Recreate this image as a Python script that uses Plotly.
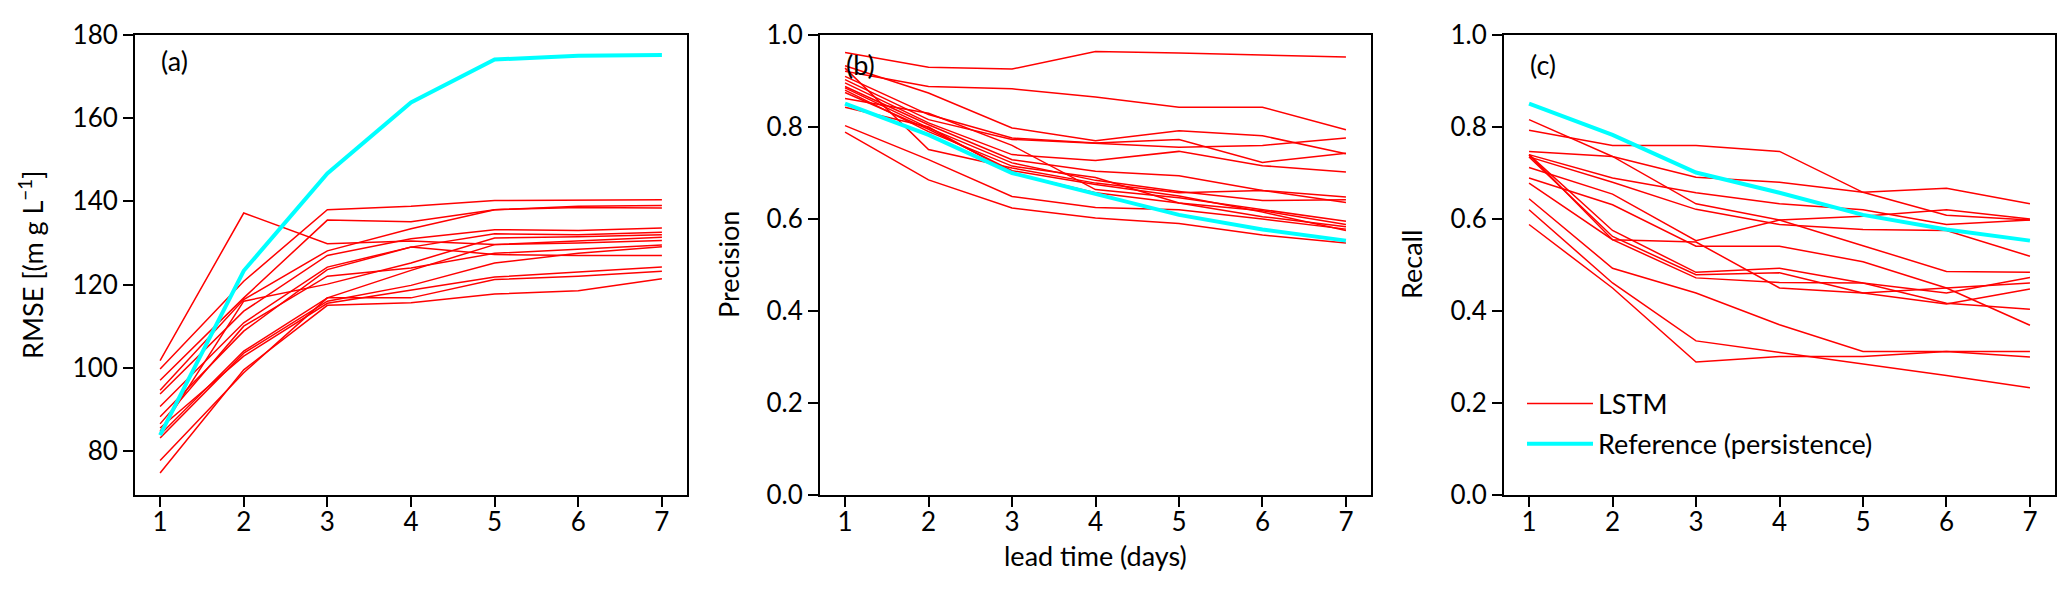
import plotly.graph_objects as go

lead_days = [1, 2, 3, 4, 5, 6, 7]

# ---- Panel (a): RMSE ----
rmse_lstm = [
    [101.7, 137.2, 129.8, 130.5, 129.6, 130.0, 130.6],
    [99.7, 120.8, 138.0, 138.8, 140.2, 140.3, 140.4],
    [97.0, 116.8, 135.5, 135.1, 138.0, 138.8, 139.0],
    [94.6, 116.4, 128.1, 133.4, 138.0, 138.5, 138.4],
    [93.7, 113.6, 127.0, 131.0, 133.2, 133.0, 133.6],
    [90.7, 110.8, 124.2, 129.0, 132.2, 132.0, 132.6],
    [88.2, 108.8, 123.6, 129.0, 127.2, 127.0, 127.0],
    [84.7, 116.0, 120.1, 125.2, 131.2, 131.5, 132.0],
    [83.9, 104.0, 116.8, 123.4, 129.6, 130.5, 131.4],
    [83.1, 103.5, 116.0, 119.8, 125.2, 127.5, 129.1],
    [85.5, 102.8, 115.5, 118.7, 121.8, 123.0, 124.2],
    [77.7, 98.8, 116.8, 116.8, 121.2, 122.0, 123.2],
    [74.7, 99.5, 115.0, 115.6, 117.7, 118.5, 121.4],
    [86.5, 110.0, 122.0, 124.0, 127.5, 128.5, 129.5],
]
rmse_ref = [83.8, 123.3, 146.7, 163.8, 174.1, 175.0, 175.2]

# ---- Panel (b): Precision ----
prec_lstm = [
    [0.962, 0.930, 0.926, 0.964, 0.961, 0.957, 0.952],
    [0.921, 0.888, 0.883, 0.865, 0.843, 0.843, 0.794],
    [0.933, 0.874, 0.798, 0.770, 0.792, 0.781, 0.742],
    [0.910, 0.827, 0.776, 0.765, 0.773, 0.723, 0.743],
    [0.903, 0.816, 0.773, 0.765, 0.756, 0.760, 0.776],
    [0.896, 0.809, 0.740, 0.727, 0.747, 0.716, 0.702],
    [0.888, 0.805, 0.729, 0.704, 0.694, 0.662, 0.648],
    [0.885, 0.798, 0.722, 0.684, 0.660, 0.640, 0.642],
    [0.928, 0.751, 0.711, 0.678, 0.657, 0.662, 0.636],
    [0.862, 0.830, 0.760, 0.664, 0.646, 0.620, 0.595],
    [0.843, 0.800, 0.700, 0.657, 0.635, 0.618, 0.588],
    [0.880, 0.790, 0.715, 0.690, 0.635, 0.605, 0.583],
    [0.803, 0.729, 0.649, 0.625, 0.620, 0.600, 0.578],
    [0.789, 0.685, 0.624, 0.602, 0.590, 0.565, 0.548],
    [0.875, 0.795, 0.705, 0.675, 0.650, 0.615, 0.575],
]
prec_ref = [0.851, 0.783, 0.700, 0.655, 0.609, 0.577, 0.553]

# ---- Panel (c): Recall ----
recall_lstm = [
    [0.793, 0.760, 0.760, 0.747, 0.658, 0.608, 0.598],
    [0.816, 0.736, 0.691, 0.680, 0.658, 0.667, 0.633],
    [0.747, 0.736, 0.633, 0.598, 0.606, 0.620, 0.600],
    [0.740, 0.689, 0.657, 0.633, 0.620, 0.588, 0.598],
    [0.735, 0.680, 0.621, 0.588, 0.577, 0.575, 0.519],
    [0.712, 0.654, 0.553, 0.598, 0.542, 0.486, 0.484],
    [0.689, 0.631, 0.541, 0.541, 0.507, 0.450, 0.369],
    [0.740, 0.575, 0.484, 0.493, 0.461, 0.439, 0.473],
    [0.735, 0.562, 0.479, 0.483, 0.439, 0.450, 0.461],
    [0.740, 0.555, 0.472, 0.462, 0.461, 0.417, 0.404],
    [0.678, 0.555, 0.550, 0.450, 0.439, 0.415, 0.448],
    [0.644, 0.493, 0.439, 0.370, 0.312, 0.312, 0.312],
    [0.620, 0.461, 0.335, 0.310, 0.285, 0.260, 0.233],
    [0.588, 0.450, 0.289, 0.301, 0.301, 0.312, 0.300],
]
recall_ref = [0.851, 0.783, 0.701, 0.657, 0.609, 0.577, 0.553]

panel_labels = ["(a)", "(b)", "(c)"]
y_titles = ["RMSE [(m g L<sup>−1</sup>]", "Precision", "Recall"]
x_title = "lead time (days)"
legend_names = ["LSTM", "Reference (persistence)"]

W, H = 2067, 590
FONT = "Lato"
RED = "#ff0000"
CYAN = "#00ffff"

fig = go.Figure()

panels = [(rmse_lstm, rmse_ref), (prec_lstm, prec_ref), (recall_lstm, recall_ref)]
for i, (lstm, ref) in enumerate(panels):
    ax = "" if i == 0 else str(i + 1)
    for j, series in enumerate(lstm):
        fig.add_trace(go.Scatter(
            x=lead_days, y=series, mode="lines",
            line=dict(color=RED, width=1.5),
            name=legend_names[0], legendgroup="lstm",
            showlegend=(i == 2 and j == 0),
            xaxis="x" + ax, yaxis="y" + ax,
        ))
    fig.add_trace(go.Scatter(
        x=lead_days, y=ref, mode="lines",
        line=dict(color=CYAN, width=4),
        name=legend_names[1], legendgroup="ref",
        showlegend=(i == 2),
        xaxis="x" + ax, yaxis="y" + ax,
    ))

px_domains = [(127, 679), (812, 1363), (1496, 2047)]
domains = [[a / W, b / W] for a, b in px_domains]
yranges = [[69.4, 180], [0, 1.0], [0, 1.0]]
ytickvals = [[80, 100, 120, 140, 160, 180],
             [0.0, 0.2, 0.4, 0.6, 0.8, 1.0],
             [0.0, 0.2, 0.4, 0.6, 0.8, 1.0]]
yticktext = [[str(v) for v in ytickvals[0]],
             [f"{v:.1f}" for v in ytickvals[1]],
             [f"{v:.1f}" for v in ytickvals[2]]]

axis_common = dict(
    showline=True, linecolor="black", linewidth=2, mirror=True,
    ticks="outside", ticklen=10, tickwidth=2, tickcolor="black",
    showgrid=False, zeroline=False,
    tickfont=dict(family=FONT, size=26, color="black"),
    automargin=False,
)

layout = dict(
    width=W, height=H,
    margin=dict(l=0, r=0, t=27, b=103),
    paper_bgcolor="white", plot_bgcolor="white",
    font=dict(family=FONT, color="black"),
    showlegend=True,
    legend=dict(
        x=1514 / W, y=0.251, xanchor="left", yanchor="top",
        bgcolor="rgba(0,0,0,0)", borderwidth=0,
        font=dict(family=FONT, size=27, color="black"),
        itemwidth=66, tracegroupgap=2,
    ),
)
for i in range(3):
    ax = "" if i == 0 else str(i + 1)
    layout["xaxis" + ax] = dict(
        domain=domains[i], range=[0.7, 7.3], anchor="y" + ax,
        tickvals=lead_days, ticktext=[str(d) for d in lead_days],
        ticklabelstandoff=-7,
        **axis_common,
    )
    layout["yaxis" + ax] = dict(
        domain=[0, 1], range=yranges[i], anchor="x" + ax,
        tickvals=ytickvals[i], ticktext=yticktext[i],
        **axis_common,
    )
fig.update_layout(**layout)

annotations = []
label_x_px = [151, 836, 1520]
label_y = [0.945, 0.936, 0.936]
for i in range(3):
    annotations.append(dict(
        text=panel_labels[i], xref="paper", yref="paper",
        x=label_x_px[i] / W, y=label_y[i], xanchor="left", yanchor="middle",
        showarrow=False, font=dict(family=FONT, size=27, color="black"),
    ))
ytitle_x_px = [23, 720, 1403]
for i in range(3):
    annotations.append(dict(
        text=y_titles[i], xref="paper", yref="paper",
        x=ytitle_x_px[i] / W, y=0.5, xanchor="center", yanchor="middle",
        textangle=-90, showarrow=False,
        font=dict(family=FONT, size=27, color="black"),
    ))
annotations.append(dict(
    text=x_title, xref="paper", yref="paper",
    x=1087 / W, y=(487 - 547) / 460, xanchor="center", yanchor="middle",
    showarrow=False, font=dict(family=FONT, size=27, color="black"),
))
fig.update_layout(annotations=annotations)

fig.write_html("out.html")
